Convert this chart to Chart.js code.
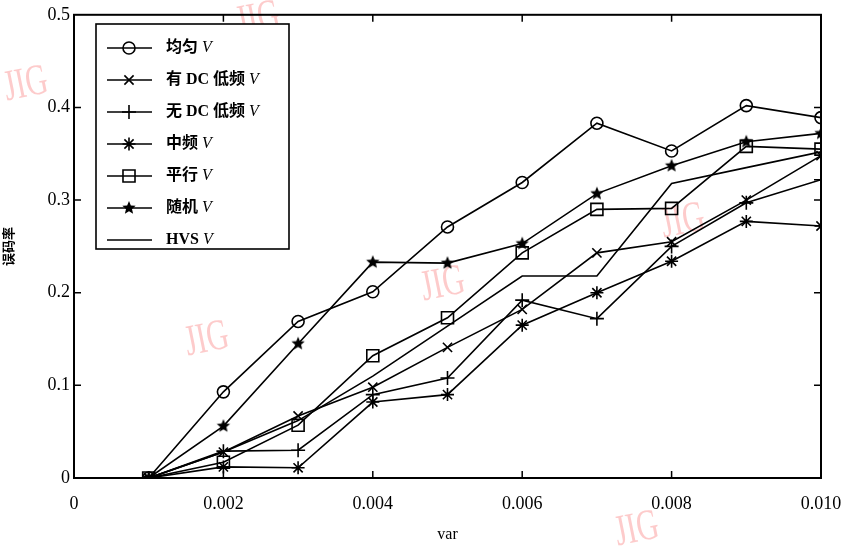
<!DOCTYPE html>
<html lang="zh">
<head>
    <meta charset="utf-8">
    <script src="https://cdn.jsdelivr.net/npm/chart.js@4.4.1/dist/chart.umd.min.js"></script>
    <style>
        html, body { margin: 0; padding: 0; background: #fff; }
        #canvas-container { position: relative; width: 842px; height: 547px; }
    </style>
</head>
<body>

<div id="canvas-container">
    <canvas id="ber-chart"></canvas>
</div>

<script>
    // values (bit error rate vs. noise variance)
    const varValues = [0.001, 0.002, 0.003, 0.004, 0.005, 0.006, 0.007, 0.008, 0.009, 0.010];
    const uniformV  = [0, 0.093, 0.169, 0.201, 0.271, 0.319, 0.383, 0.353, 0.402, 0.389];
    const dcLowV    = [0, 0.028, 0.067, 0.098, 0.141, 0.182, 0.243, 0.255, 0.300, 0.348];
    const noDcLowV  = [0, 0.029, 0.030, 0.090, 0.108, 0.192, 0.172, 0.250, 0.297, 0.322];
    const midFreqV  = [0, 0.012, 0.011, 0.082, 0.090, 0.165, 0.200, 0.234, 0.277, 0.272];
    const parallelV = [0, 0.017, 0.057, 0.132, 0.173, 0.243, 0.290, 0.291, 0.358, 0.355];
    const randomV   = [0, 0.056, 0.145, 0.233, 0.232, 0.253, 0.307, 0.337, 0.363, 0.372];
    const hvsV      = [0, 0.028, 0.062, 0.110, 0.164, 0.218, 0.218, 0.318, 0.335, 0.352];

    const seriesNames = ["均匀", "有 DC 低频", "无 DC 低频", "中频", "平行", "随机", "HVS"];
    const xTicks = [0, 0.002, 0.004, 0.006, 0.008, 0.010];
    const yTicks = [0, 0.1, 0.2, 0.3, 0.4, 0.5];

    const serif = "'Liberation Serif', 'Noto Sans CJK SC', serif";

    // filled five point star, Chart.js has no such point style
    function makeStar(r) {
        const c = document.createElement("canvas");
        const s = Math.ceil(r * 2 + 2);
        c.width = s; c.height = s;
        const g = c.getContext("2d");
        g.fillStyle = "#000";
        g.beginPath();
        for (let i = 0; i < 10; i++) {
            const rad = i % 2 === 0 ? r : r * 0.45;
            const a = -Math.PI / 2 + i * Math.PI / 5;
            const px = s / 2 + rad * Math.cos(a), py = s / 2 + rad * Math.sin(a);
            if (i === 0) g.moveTo(px, py); else g.lineTo(px, py);
        }
        g.closePath();
        g.fill();
        return c;
    }
    const starImg = makeStar(7);

    function pts(values) {
        return varValues.map((x, i) => ({ x: x, y: values[i] }));
    }

    function series(label, values, style, radius) {
        return {
            label: label,
            data: pts(values),
            borderColor: "#000",
            backgroundColor: "rgba(0,0,0,0)",
            borderWidth: 1.6,
            pointStyle: style,
            pointRadius: radius,
            pointBorderWidth: 1.6,
            pointBorderColor: "#000",
            pointBackgroundColor: "rgba(0,0,0,0)",
            tension: 0
        };
    }

    const datasets = [
        series(seriesNames[0], uniformV, "circle", 6),
        series(seriesNames[1], dcLowV, "crossRot", 6.5),
        series(seriesNames[2], noDcLowV, "cross", 7),
        series(seriesNames[3], midFreqV, "star", 6.5),
        series(seriesNames[4], parallelV, "rect", 8.5),
        series(seriesNames[5], randomV, starImg, 7),
        series(seriesNames[6], hvsV, false, 0)
    ];

    // frame, inward ticks on all four sides, legend box and watermark
    const framePlugin = {
        id: "frame",
        beforeDraw(chart) {
            const ctx = chart.ctx;
            ctx.save();
            ctx.font = "38px " + serif;
            ctx.fillStyle = "rgba(250,140,140,0.45)";
            ctx.textAlign = "center";
            ctx.textBaseline = "middle";
            [[26, 85], [258, 20], [207, 340], [443, 285], [683, 222], [637, 530]].forEach(p => {
                ctx.save();
                ctx.translate(p[0], p[1]);
                ctx.rotate(-0.2);
                ctx.scale(0.8, 1.15);
                ctx.fillText("JIG", 0, 0);
                ctx.restore();
            });
            ctx.restore();
        },
        afterDatasetsDraw(chart) {
            const ctx = chart.ctx;
            const a = chart.chartArea;
            const xs = chart.scales.x, ys = chart.scales.y;
            ctx.save();
            ctx.strokeStyle = "#000";
            ctx.lineWidth = 2;
            ctx.strokeRect(a.left, a.top, a.right - a.left, a.bottom - a.top);
            ctx.lineWidth = 1.5;
            ctx.beginPath();
            xTicks.slice(1, -1).forEach(v => {
                const px = xs.getPixelForValue(v);
                ctx.moveTo(px, a.bottom); ctx.lineTo(px, a.bottom - 7);
                ctx.moveTo(px, a.top); ctx.lineTo(px, a.top + 7);
            });
            yTicks.slice(1, -1).forEach(v => {
                const py = ys.getPixelForValue(v);
                ctx.moveTo(a.left, py); ctx.lineTo(a.left + 7, py);
                ctx.moveTo(a.right, py); ctx.lineTo(a.right - 7, py);
            });
            ctx.stroke();

            // legend
            const lx = 96, ly = 24, lw = 193, lh = 225;
            ctx.fillStyle = "#fff";
            ctx.fillRect(lx, ly, lw, lh);
            ctx.lineWidth = 1.6;
            ctx.strokeRect(lx, ly, lw, lh);
            chart.data.datasets.forEach((ds, i) => {
                const y = 48 + i * 32;
                ctx.strokeStyle = "#000";
                ctx.lineWidth = 1.6;
                ctx.beginPath();
                ctx.moveTo(107, y); ctx.lineTo(152, y);
                ctx.stroke();
                if (ds.pointStyle) {
                    ctx.fillStyle = "rgba(0,0,0,0)";
                    ctx.lineWidth = 1.6;
                    if (ds.pointStyle instanceof HTMLCanvasElement) {
                        const im = ds.pointStyle;
                        ctx.drawImage(im, 129 - im.width / 2, y - im.height / 2);
                    } else {
                        Chart.helpers.drawPoint(ctx, {
                            pointStyle: ds.pointStyle, radius: ds.pointRadius,
                            rotation: 0, borderWidth: 1.6
                        }, 129, y);
                    }
                }
                ctx.fillStyle = "#000";
                ctx.textBaseline = "middle";
                ctx.textAlign = "left";
                ctx.font = "bold 16px " + serif;
                ctx.fillText(ds.label, 166, y);
                const w = ctx.measureText(ds.label + " ").width;
                ctx.font = "italic 16px " + serif;
                ctx.fillText("V", 166 + w, y);
            });
            ctx.restore();
        }
    };

    const canvas = document.getElementById("ber-chart");
    const ch = new Chart(canvas.getContext("2d"), {
        type: "line",
        data: { datasets: datasets },
        options: {
            responsive: true,
            maintainAspectRatio: false,
            animation: false,
            layout: { padding: { left: 0, right: 21, top: 13, bottom: 0 } },
            plugins: {
                legend: { display: false },
                tooltip: { enabled: false }
            },
            scales: {
                x: {
                    type: "linear",
                    min: 0,
                    max: 0.01,
                    afterBuildTicks: s => { s.ticks = xTicks.map(v => ({ value: v })); },
                    afterFit: s => {
                        s.height = 69;
                        s.paddingLeft = 0;
                        s.paddingRight = 0;
                    },
                    grid: { display: false, drawTicks: false },
                    border: { display: false },
                    ticks: {
                        padding: 15,
                        color: "#000",
                        font: { family: serif, size: 18 },
                        callback: v => v === 0 ? "0" : v.toFixed(3)
                    },
                    title: {
                        display: true,
                        text: "var",
                        color: "#000",
                        font: { family: serif, size: 16 },
                        padding: { top: 0, bottom: 3 }
                    }
                },
                y: {
                    min: 0,
                    max: 0.5,
                    afterBuildTicks: s => { s.ticks = yTicks.map(v => ({ value: v })); },
                    afterFit: s => { s.width = 74; },
                    grid: { display: false, drawTicks: false },
                    border: { display: false },
                    ticks: {
                        padding: 4,
                        color: "#000",
                        font: { family: serif, size: 18 },
                        callback: v => v === 0 ? "0" : v.toFixed(1)
                    },
                    title: {
                        display: true,
                        text: "误码率",
                        color: "#000",
                        font: { family: "'Noto Sans CJK SC', sans-serif", size: 13, weight: "bold" },
                        padding: { top: 0, bottom: 8 }
                    }
                }
            }
        },
        plugins: [framePlugin]
    });
</script>

</body>
</html>
